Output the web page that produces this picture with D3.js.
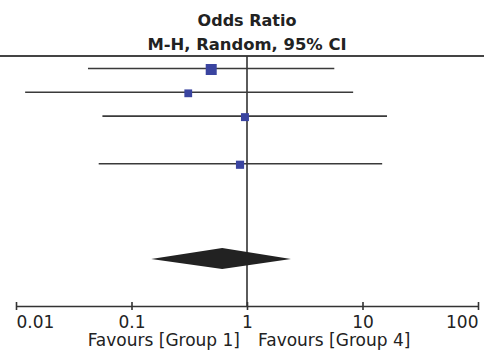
<!DOCTYPE html>
<html>
<head>
<meta charset="utf-8">
<script src="https://cdn.jsdelivr.net/npm/d3@7"></script>
<style>
  body { margin: 0; background: #fff; }
  text { font-family: "DejaVu Sans", sans-serif; fill: #222; }
</style>
</head>
<body>
<div id="chart"></div>
<script>
// Forest plot: Odds Ratio, M-H, Random, 95% CI

// study rows (position in the table) and their estimates
const rowIndex = [0, 1, 2, 4];
const oddsRatio = [0.49, 0.31, 0.96, 0.87];
const ciLower = [0.042, 0.012, 0.056, 0.052];
const ciUpper = [5.7, 8.3, 16.3, 14.8];
const weight = [40, 20, 21, 22];

// pooled estimate (diamond)
const pooledRow = 8;
const pooled = [0.61, 0.148, 2.4]; // estimate, lower, upper

const tickValues = [0.01, 0.1, 1, 10, 100];
const tickLabels = ["0.01", "0.1", "1", "10", "100"];

const width = 484, height = 350;

const svg = d3
  .select("#chart")
  .append("svg")
  .attr("width", width)
  .attr("height", height);

// scales
const x = d3.scaleLog().domain([0.01, 100]).range([16, 478]);
const y = d3.scaleLinear().domain([0, 8]).range([68.5, 259]);
const size = d3.scaleSqrt().domain([0, 40]).range([0, 11]);

const axisY = 306;

// header
svg.append("text")
  .attr("x", x(1))
  .attr("y", 26)
  .attr("text-anchor", "middle")
  .attr("font-weight", "bold")
  .attr("font-size", 16)
  .text("Odds Ratio");

svg.append("text")
  .attr("x", x(1))
  .attr("y", 50)
  .attr("text-anchor", "middle")
  .attr("font-weight", "bold")
  .attr("font-size", 16.4)
  .text("M-H, Random, 95% CI");

svg.append("line")
  .attr("x1", 0)
  .attr("x2", width)
  .attr("y1", 56)
  .attr("y2", 56)
  .attr("stroke", "#444")
  .attr("stroke-width", 2);

// line of no effect
svg.append("line")
  .attr("x1", x(1))
  .attr("x2", x(1))
  .attr("y1", 56)
  .attr("y2", axisY)
  .attr("stroke", "#333")
  .attr("stroke-width", 1.6);

// studies
const studies = rowIndex.map((r, i) => ({
  row: r, or: oddsRatio[i], lo: ciLower[i], hi: ciUpper[i], w: weight[i]
}));

svg.selectAll(".ci")
  .data(studies)
  .enter()
  .append("line")
  .attr("class", "ci")
  .attr("x1", (d) => x(d.lo))
  .attr("x2", (d) => x(d.hi))
  .attr("y1", (d) => y(d.row))
  .attr("y2", (d) => y(d.row))
  .attr("stroke", "#3a3a3a")
  .attr("stroke-width", 1.6);

svg.selectAll(".box")
  .data(studies)
  .enter()
  .append("rect")
  .attr("class", "box")
  .attr("x", (d) => x(d.or) - size(d.w) / 2)
  .attr("y", (d) => y(d.row) - size(d.w) / 2 + 1)
  .attr("width", (d) => size(d.w))
  .attr("height", (d) => size(d.w))
  .attr("fill", "#3a44a0");

// pooled diamond
const dy = y(pooledRow);
svg.append("path")
  .attr("d", `M${x(pooled[1])},${dy} L${x(pooled[0])},${dy - 11} L${x(pooled[2])},${dy} L${x(pooled[0])},${dy + 10} Z`)
  .attr("fill", "#222");

// axis
const axis = svg.append("g")
  .attr("transform", `translate(0,${axisY})`)
  .call(
    d3.axisBottom(x)
      .tickValues(tickValues)
      .tickFormat((d, i) => tickLabels[i])
      .tickSize(4)
      .tickSizeOuter(0)
  );

axis.select(".domain").attr("stroke", "#333").attr("stroke-width", 1.6);
axis.selectAll(".tick line").attr("y1", -4).attr("stroke", "#333").attr("stroke-width", 1.6);
axis.selectAll(".tick text")
  .attr("y", 21.5)
  .attr("dy", 0)
  .attr("font-size", 17)
  .attr("font-family", "DejaVu Sans")
  .attr("fill", "#222")
  .attr("text-anchor", (d, i) => (i === 0 ? "start" : i === tickValues.length - 1 ? "end" : "middle"));

// favours labels
svg.append("text")
  .attr("x", x(1) - 7)
  .attr("y", 346)
  .attr("text-anchor", "end")
  .attr("font-size", 17)
  .text("Favours [Group 1]");

svg.append("text")
  .attr("x", x(1) + 11)
  .attr("y", 346)
  .attr("text-anchor", "start")
  .attr("font-size", 17)
  .text("Favours [Group 4]");
</script>
</body>
</html>
